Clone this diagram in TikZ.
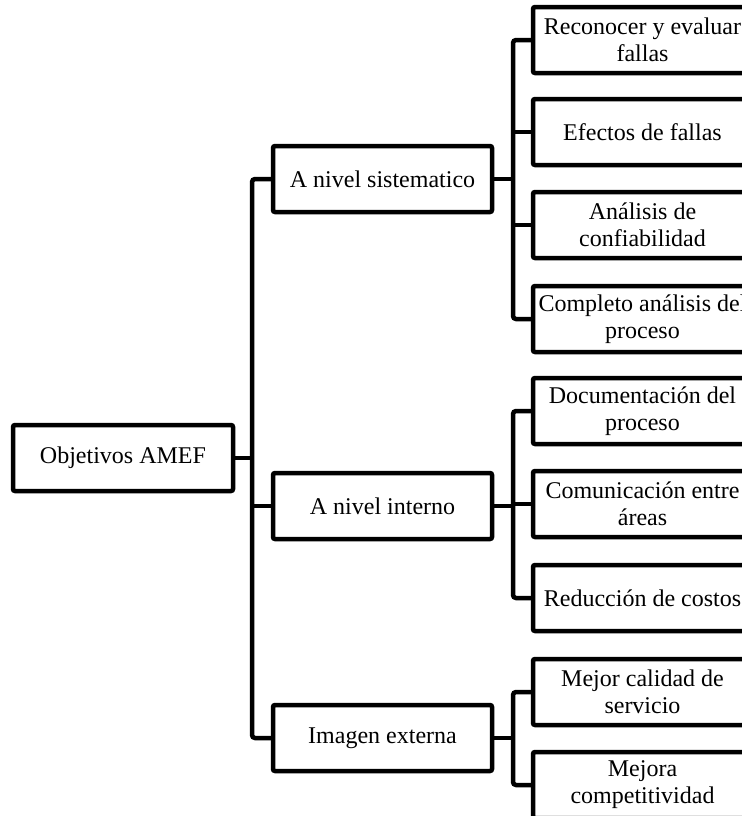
\documentclass[tikz,border=0pt]{standalone}
\usepackage{fontspec}
\setmainfont{Liberation Serif}
\begin{document}
\begin{tikzpicture}[x=0.5pt,y=-0.5pt,
  box/.style={draw,line width=2.25pt,rounded corners=1pt,rectangle,align=center,
    minimum width=109.5pt,minimum height=33pt,inner sep=2pt,font=\fontsize{12}{13.5}\selectfont},
  link/.style={line width=2.25pt,rounded corners=1.5pt}]
\useasboundingbox (0,0) rectangle (742,816);
\clip (0,0) rectangle (742,816);
% root
\node[box,minimum width=110pt] (root) at (123,458) {Objetivos AMEF};
% first level
\node[box] (sis) at (382.5,179) {A nivel sistematico};
\node[box] (int) at (382.5,506) {A nivel interno};
\node[box] (ext) at (382.5,738) {Imagen externa};
% second level
\node[box] (s1) at (642.5,40) {Reconocer y evaluar\\fallas};
\node[box] (s2) at (642.5,132) {Efectos de fallas};
\node[box] (s3) at (642.5,225) {Análisis de\\confiabilidad};
\node[box] (s4) at (642.5,319) {Completo análisis del\\proceso};
\node[box] (i1) at (642.5,411) {Documentación del\\proceso};
\node[box] (i2) at (642.5,504) {Comunicación entre\\áreas};
\node[box] (i3) at (642.5,598) {Reducción de costos};
\node[box] (e1) at (642.5,692) {Mejor calidad de\\servicio};
\node[box] (e2) at (642.5,785) {Mejora\\competitividad};
% branch points
\coordinate (t0) at (252,458);
\coordinate (t1) at (513,179);
\coordinate (t2) at (513,506);
\coordinate (t3) at (513,738);
% root to first level
\draw[link] (root.east) -- (t0);
\draw[link] (sis.west) -| (t0) |- (ext.west);
\draw[link] (int.west) -- (int.west -| t0);
% first group
\draw[link] (sis.east) -- (t1);
\draw[link] (s1.west) -| (t1) |- (s4.west);
\draw[link] (s2.west) -- (s2.west -| t1);
\draw[link] (s3.west) -- (s3.west -| t1);
% second group
\draw[link] (int.east) -- (t2);
\draw[link] (i1.west) -| (t2) |- (i3.west);
\draw[link] (i2.west) -- (i2.west -| t2);
% third group
\draw[link] (ext.east) -- (t3);
\draw[link] (e1.west) -| (t3) |- (e2.west);
\end{tikzpicture}
\end{document}
